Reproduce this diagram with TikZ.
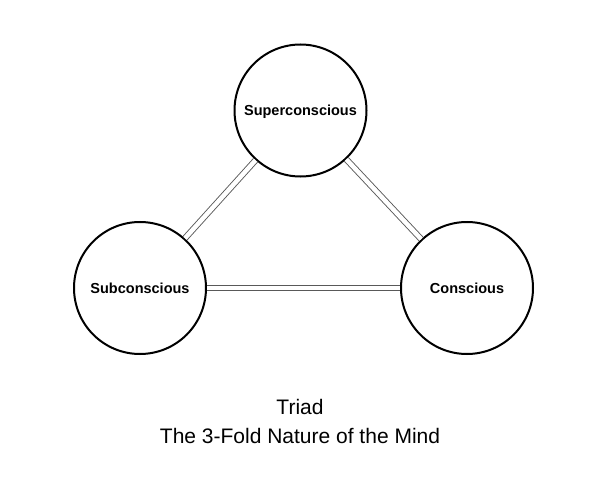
\documentclass[tikz,border=0pt]{standalone}
\usepackage{fontspec}
\setmainfont{Liberation Sans}
\usetikzlibrary{positioning}

\begin{document}
\begin{tikzpicture}[
     x=1pt, y=-1pt,
     mindcircle/.style={circle, draw, line width=2pt, minimum size=132pt, inner sep=0pt, text depth=0pt, font=\fontsize{14.5}{17}\selectfont\bfseries},
     mindlink/.style={draw=black!65, line width=0.9pt, double=white, double distance=4.5pt},
     captiontext/.style={font=\fontsize{21}{29}\selectfont, align=center}
 ]
 \useasboundingbox (0,0) rectangle (600,484);

 % the three parts of the mind
 \node[mindcircle] (super) at (300.5,110.5) {Superconscious};
 \node[mindcircle] (sub) at (140,288) {Subconscious};
 \node[mindcircle] (con) at (467,288) {Conscious};

 % links between them
 \draw[mindlink] (sub) -- (super);
 \draw[mindlink] (super) -- (con);
 \draw[mindlink] (sub) -- (con);

 \node[captiontext] (caption) at (300,421) {Triad\\The 3-Fold Nature of the Mind};
\end{tikzpicture}
\end{document}
